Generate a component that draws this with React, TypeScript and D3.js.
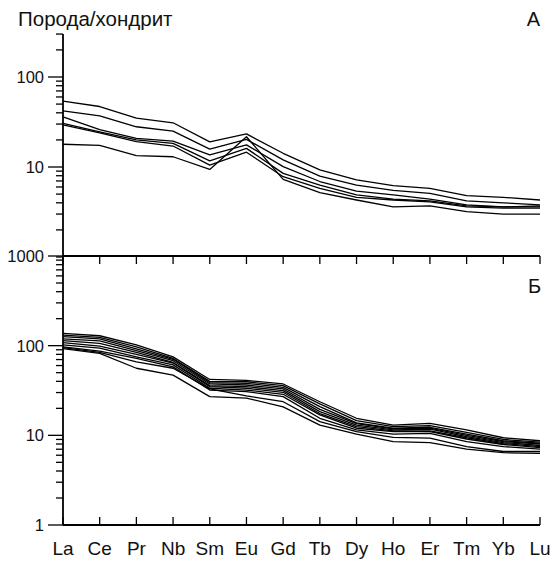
import React, { useEffect, useRef } from 'react';
import * as d3 from 'd3';

const elements = ['La', 'Ce', 'Pr', 'Nb', 'Sm', 'Eu', 'Gd', 'Tb', 'Dy', 'Ho', 'Er', 'Tm', 'Yb', 'Lu'];

// panel A (upper) — rock / chondrite
const seriesA = [
  [54, 47, 35, 31, 19, 23.3, 14.2, 9.3, 7.2, 6.2, 5.8, 4.8, 4.6, 4.3],
  [42, 37, 28, 25, 15.8, 20.3, 12, 7.9, 6.3, 5.5, 5.1, 4.2, 4.0, 3.8],
  [36, 26, 20.8, 19.4, 13.6, 17.6, 10.1, 6.9, 5.4, 4.9, 4.4, 3.8, 3.6, 3.7],
  [30.5, 24.5, 20, 18.3, 11.7, 16.1, 8.5, 6.3, 4.9, 4.4, 4.2, 3.7, 3.6, 3.6],
  [29.3, 24, 19.1, 17.1, 10.5, 14.6, 7.8, 5.8, 4.6, 4.3, 4.1, 3.6, 3.5, 3.5],
  [17.9, 17.4, 13.4, 13.0, 9.4, 21.7, 7.3, 5.2, 4.3, 3.6, 3.7, 3.2, 3.0, 3.0],
];

// panel Б (lower)
const seriesB = [
  [137, 129, 102, 75, 42, 41, 37.4, 23.7, 15.5, 13, 13.6, 11.5, 9.4, 8.7],
  [131, 124, 97, 72, 40, 39.6, 35.8, 22.4, 14.6, 12.5, 12.8, 10.8, 9.0, 8.4],
  [126, 119, 92, 70.5, 38.7, 38, 34.3, 20.9, 13.8, 12, 12.3, 10.3, 8.7, 8.2],
  [119, 113, 88, 68, 37.4, 36.4, 32.9, 19.5, 13.5, 11.8, 12, 10, 8.5, 8.0],
  [114, 106, 84, 65, 35.8, 34.9, 31.5, 18.4, 13.0, 11.5, 11.7, 9.7, 8.3, 7.7],
  [108, 99, 80, 64, 34.9, 33.5, 30.2, 17.5, 12.5, 11.2, 11.2, 9.4, 8.1, 7.5],
  [102, 94, 75, 61, 33.5, 32, 28.7, 16.9, 12, 11, 11, 9.1, 7.9, 7.3],
  [97, 87, 72, 58, 32, 30.7, 27, 15.5, 11.5, 10.3, 10.5, 8.5, 7.5, 7.0],
  [95, 84, 66, 56, 33, 27.5, 23.7, 14.2, 11.0, 9.5, 9.3, 7.5, 6.6, 6.6],
  [92.5, 82, 56, 47, 27, 26, 20.8, 13.0, 10.3, 8.5, 8.3, 7.0, 6.4, 6.3],
];

const labelsA = [10, 100];
const labelsB = [1, 10, 100, 1000];

const FONT = '"Liberation Sans", Arial, sans-serif';

export default function App() {
  const svgRef = useRef<SVGSVGElement | null>(null);

  useEffect(() => {
    if (!svgRef.current) return;
    const width = 552;
    const height = 561;
    const left = 63;
    const right = 540;

    const svg = d3.select(svgRef.current);
    svg.selectAll('*').remove();
    svg.attr('width', width).attr('height', height);

    const x = d3.scalePoint<string>().domain(elements).range([left, right]);

    // 90px per decade in the upper panel, 1 sits on the shared border
    const yA = d3.scaleLog().domain([1, 300]).range([257, 257 - 90 * Math.log10(300)]);
    const yB = d3.scaleLog().domain([1, 1000]).range([525, 256]);

    const line = (y: d3.ScaleLogarithmic<number, number>) =>
      d3.line<number>()
        .x((_, i) => x(elements[i]) as number)
        .y(d => y(d));

    // data lines
    const drawSeries = (data: number[][], y: d3.ScaleLogarithmic<number, number>) => {
      svg.append('g')
        .selectAll('path')
        .data(data)
        .join('path')
        .attr('d', d => line(y)(d))
        .attr('fill', 'none')
        .attr('stroke', '#000')
        .attr('stroke-width', 1.3)
        .attr('stroke-linejoin', 'round');
    };
    drawSeries(seriesA, yA);
    drawSeries(seriesB, yB);

    const axis = svg.append('g').attr('stroke', '#000').attr('stroke-width', 1.8);

    // left axis, one continuous line through both panels
    axis.append('line').attr('x1', left).attr('x2', left).attr('y1', yA(300)).attr('y2', 525);

    // y ticks
    const drawYTicks = (y: d3.ScaleLogarithmic<number, number>, labels: number[]) => {
      axis.append('g')
        .selectAll('line')
        .data(y.ticks())
        .join('line')
        .attr('x1', d => left - (labels.includes(d) ? 15 : 7))
        .attr('x2', left)
        .attr('y1', d => y(d))
        .attr('y2', d => y(d))
        .attr('stroke-width', 1.3);
      svg.append('g')
        .selectAll('text')
        .data(labels)
        .join('text')
        .attr('x', left - 19)
        .attr('y', d => y(d))
        .attr('dy', '0.36em')
        .attr('text-anchor', 'end')
        .style('font', `16.5px ${FONT}`)
        .attr('fill', '#111')
        .text(d => String(d));
    };
    drawYTicks(yA, labelsA);
    drawYTicks(yB, labelsB);

    // frame lines of the lower panel with inward ticks
    axis.append('line').attr('x1', left).attr('x2', right).attr('y1', 256).attr('y2', 256);
    axis.append('line').attr('x1', left).attr('x2', right).attr('y1', 525).attr('y2', 525);
    axis.append('g')
      .selectAll('line')
      .data(elements)
      .join('line')
      .attr('x1', d => x(d) as number)
      .attr('x2', d => x(d) as number)
      .attr('y1', 256)
      .attr('y2', 264)
      .attr('stroke-width', 1.3);
    axis.append('g')
      .selectAll('line')
      .data(elements)
      .join('line')
      .attr('x1', d => x(d) as number)
      .attr('x2', d => x(d) as number)
      .attr('y1', 517)
      .attr('y2', 525)
      .attr('stroke-width', 1.3);

    // element names
    svg.append('g')
      .selectAll('text')
      .data(elements)
      .join('text')
      .attr('x', d => x(d) as number)
      .attr('y', 555)
      .attr('text-anchor', 'middle')
      .style('font', `19px ${FONT}`)
      .attr('fill', '#111')
      .text(d => d);

    svg.append('text')
      .attr('x', 18).attr('y', 26)
      .style('font', `20.5px ${FONT}`)
      .attr('fill', '#111')
      .text('Порода/хондрит');

    svg.append('text')
      .attr('x', 540).attr('y', 26)
      .attr('text-anchor', 'end')
      .style('font', `20px ${FONT}`)
      .attr('fill', '#111')
      .text('А');

    svg.append('text')
      .attr('x', 541).attr('y', 293)
      .attr('text-anchor', 'end')
      .style('font', `20px ${FONT}`)
      .attr('fill', '#111')
      .text('Б');
  }, []);

  return <svg ref={svgRef} style={{ position: 'absolute', left: 0, top: 0, background: '#fff' }} />;
}
